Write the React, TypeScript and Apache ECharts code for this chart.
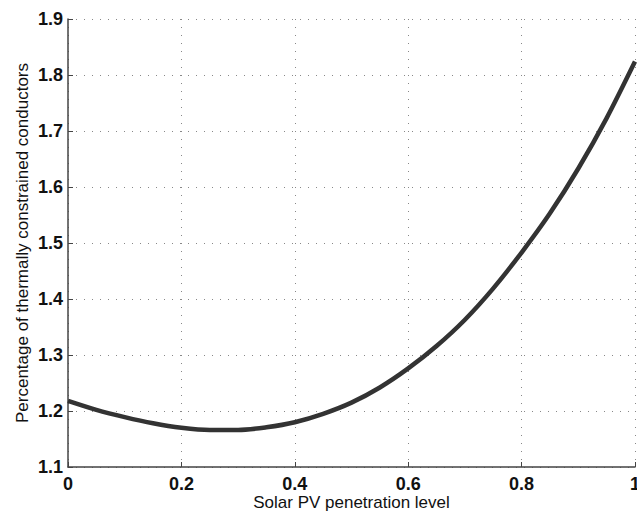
import React, { useEffect, useRef } from "react";
import * as echarts from "echarts";

const penetration = [0, 0.05, 0.1, 0.15, 0.2, 0.25, 0.3, 0.35, 0.4, 0.45, 0.5, 0.55, 0.6, 0.65, 0.7, 0.75, 0.8, 0.85, 0.9, 0.95, 1.0];
const percentage = [1.218, 1.202, 1.189, 1.178, 1.170, 1.166, 1.166, 1.171, 1.180, 1.195, 1.215, 1.242, 1.276, 1.316, 1.363, 1.419, 1.483, 1.553, 1.633, 1.723, 1.824];

const xTitle = "Solar PV penetration level";
const yTitle = "Percentage of thermally constrained conductors";

export default function App() {
  const ref = useRef<HTMLDivElement>(null);
  useEffect(() => {
    if (!ref.current) return;
    const chart = echarts.init(ref.current, undefined, { renderer: "svg" });
    const fmt = (v: number) => String(Math.round(v * 10) / 10);
    const font = "Liberation Sans, Arial, sans-serif";
    const labelStyle = {
      color: "#111",
      fontFamily: font,
      fontWeight: "bold" as const,
      fontSize: 18,
    };
    chart.setOption({
      animation: false,
      backgroundColor: "#fff",
      grid: { left: 68, right: 2, top: 19, bottom: 44, containLabel: false, outerBoundsMode: "none" },
      xAxis: {
        type: "value",
        min: 0,
        max: 1,
        interval: 0.2,
        name: xTitle,
        nameLocation: "middle",
        nameGap: 27,
        nameMoveOverlap: false,
        nameTextStyle: { color: "#111", fontFamily: font, fontSize: 17, verticalAlign: "top", lineHeight: 17 },
        axisLine: { show: true, lineStyle: { color: "#444", width: 1.5 } },
        axisTick: { show: true, inside: true, length: 5, lineStyle: { color: "#444" } },
        axisLabel: { ...labelStyle, margin: 8, formatter: fmt },
        splitLine: { show: true, lineStyle: { color: "#888", type: [1, 7], width: 1 } },
      },
      yAxis: {
        type: "value",
        min: 1.1,
        max: 1.9,
        interval: 0.1,
        name: yTitle,
        nameLocation: "middle",
        nameGap: 37,
        nameMoveOverlap: false,
        nameTextStyle: { color: "#111", fontFamily: font, fontSize: 17 },
        axisLine: { show: true, lineStyle: { color: "#444", width: 1.5 } },
        axisTick: { show: true, inside: true, length: 5, lineStyle: { color: "#444" } },
        axisLabel: { ...labelStyle, margin: 5, formatter: fmt },
        splitLine: { show: true, lineStyle: { color: "#888", type: [1, 7], width: 1 } },
      },
      series: [
        {
          type: "line",
          data: penetration.map((x, i) => [x, percentage[i]]),
          showSymbol: false,
          smooth: 0.3,
          lineStyle: { color: "#333", width: 4.5 },
        },
      ],
    });
    return () => chart.dispose();
  }, []);
  return <div ref={ref} style={{ width: 637, height: 511, position: "absolute", left: 0, top: 0 }} />;
}
